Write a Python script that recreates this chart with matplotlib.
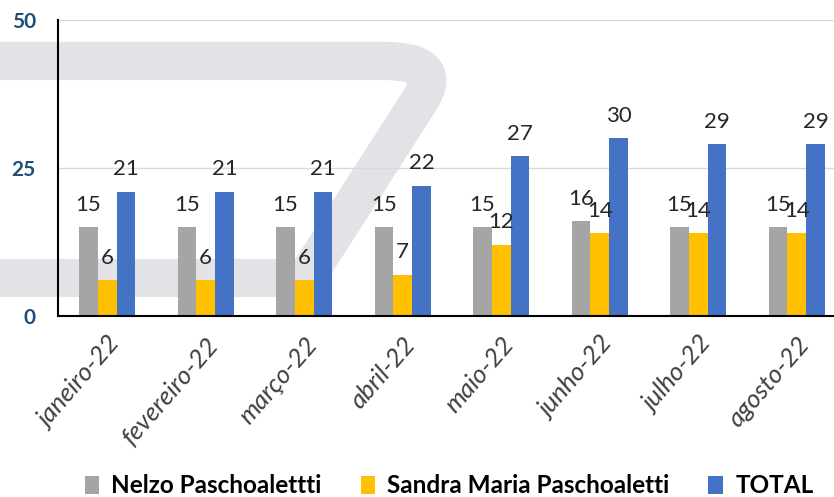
import numpy as np
import matplotlib
matplotlib.use("Agg")
import matplotlib.pyplot as plt
from matplotlib.path import Path
from matplotlib.patches import PathPatch

plt.rcParams['font.family'] = ['Lato', 'DejaVu Sans']

months = ['janeiro-22', 'fevereiro-22', 'março-22', 'abril-22',
          'maio-22', 'junho-22', 'julho-22', 'agosto-22']
nelzo = [15, 15, 15, 15, 15, 16, 15, 15]
sandra = [6, 6, 6, 7, 12, 14, 14, 14]
total = [21, 21, 21, 22, 27, 30, 29, 29]
series_names = ['Nelzo Paschoalettti', 'Sandra Maria Paschoaletti', 'TOTAL']
colors = ['#a5a5a5', '#ffc000', '#4472c4']

W, H = 834, 497
fig = plt.figure(figsize=(W / 100, H / 100), dpi=100)

# watermark shape behind the chart (pixel coords, y from top)
def px(x, y):
    return (x / W, 1 - y / H)

verts = [px(-20, 61), px(385, 61), px(445, 61), px(420, 100),
         px(306, 278), px(-20, 278)]
codes = [Path.MOVETO, Path.LINETO, Path.CURVE3, Path.CURVE3,
         Path.LINETO, Path.LINETO]
wm = PathPatch(Path(verts, codes), facecolor='none', edgecolor='#e3e3e7',
               lw=27.5, joinstyle='round', capstyle='butt',
               transform=fig.transFigure, zorder=-1)
fig.patches.append(wm)

ax = fig.add_axes([58 / W, 1 - 316 / H, 788 / W, 296 / H])
ax.patch.set_alpha(0)

x = np.arange(len(months))
w = 0.19
for i, (vals, name, c) in enumerate(zip([nelzo, sandra, total], series_names, colors)):
    bars = ax.bar(x + (i - 1) * w, vals, w, color=c, label=name, zorder=3)
    ax.bar_label(bars, padding=9, fontsize=16, color='#262626', zorder=4)

ax.set_xlim(-0.5, 7.5)
ax.set_ylim(0, 50)
ax.set_yticks([0, 25, 50])
ax.set_yticklabels(['0', '25', '50'], fontsize=15, fontweight='bold', color='#1f4e79')
ax.set_xticks(x)
ax.set_xticklabels(months, fontsize=18.5, fontstyle='italic', color='#404040')
ax.tick_params(axis='both', length=0)
ax.tick_params(axis='y', pad=16)
ax.tick_params(axis='x', pad=12)
for lbl in ax.get_xticklabels():
    lbl.set_rotation(49)
    lbl.set_ha('right')
    lbl.set_rotation_mode('anchor')
ax.grid(axis='y', color='#d9d9d9', lw=1, zorder=0)
for s in ['top', 'right']:
    ax.spines[s].set_visible(False)
for s in ['left', 'bottom']:
    ax.spines[s].set_color('black')
    ax.spines[s].set_linewidth(1.5)
    ax.spines[s].set_zorder(5)

fig.legend(loc='lower center', bbox_to_anchor=(449 / W, -0.045), ncol=3,
           frameon=False, handlelength=0.6, handleheight=0.8, handletextpad=0.5,
           columnspacing=1.6, prop={'weight': 'bold', 'size': 17.5})

fig.savefig('out.png', dpi=100)
